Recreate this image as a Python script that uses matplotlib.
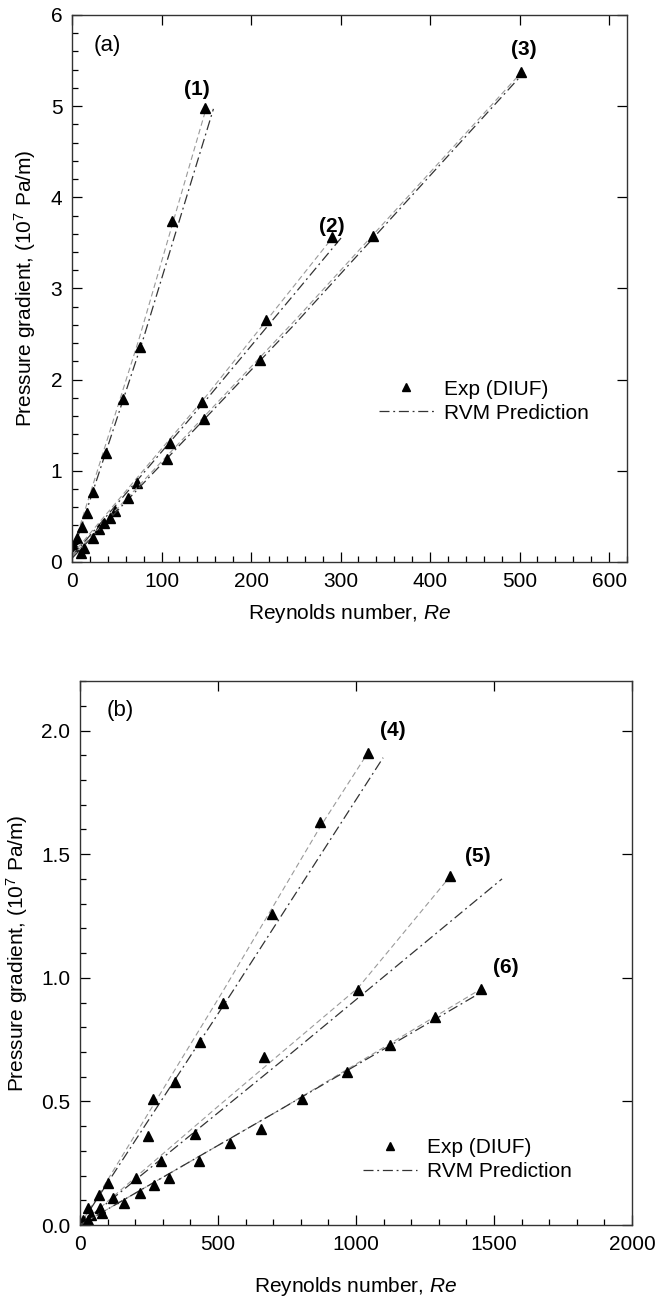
import matplotlib
matplotlib.use('Agg')
import matplotlib.pyplot as plt
from matplotlib.lines import Line2D
from matplotlib.ticker import MultipleLocator, FormatStrFormatter

plt.rcParams['font.family'] = ['Liberation Sans', 'DejaVu Sans']
plt.rcParams['mathtext.fontset'] = 'custom'
plt.rcParams['mathtext.rm'] = 'Liberation Sans'
plt.rcParams['mathtext.it'] = 'Liberation Sans:italic'

# --- panel (a): experimental points (DIUF) ---
re_1 = [149, 112, 76, 57, 38, 24, 17, 11, 6, 2]
dp_1 = [4.98, 3.74, 2.36, 1.79, 1.19, 0.77, 0.54, 0.38, 0.26, 0.18]
re_2 = [290, 217, 145, 110, 73, 48, 30, 13]
dp_2 = [3.56, 2.65, 1.75, 1.31, 0.87, 0.56, 0.36, 0.15]
re_3 = [502, 336, 210, 148, 106, 62, 42, 36, 23, 10]
dp_3 = [5.37, 3.57, 2.22, 1.57, 1.13, 0.70, 0.48, 0.43, 0.26, 0.10]

# panel (a): light dashed trend through the data
fit_re_1 = [0, 75, 150]
fit_dp_1 = [0.12, 2.45, 4.98]
fit_re_2 = [0, 150, 292]
fit_dp_2 = [0.08, 1.82, 3.57]
fit_re_3 = [0, 250, 502]
fit_dp_3 = [0.06, 2.66, 5.37]

# panel (a): RVM prediction
rvm_re_1 = [0, 80, 158]
rvm_dp_1 = [0.08, 2.46, 4.97]
rvm_re_2 = [0, 150, 302]
rvm_dp_2 = [0.06, 1.78, 3.57]
rvm_re_3 = [0, 250, 505]
rvm_dp_3 = [0.04, 2.62, 5.37]

# --- panel (b): experimental points (DIUF) ---
re_4 = [1043, 870, 695, 518, 435, 344, 264, 247, 103, 70, 30, 10]
dp_4 = [1.91, 1.63, 1.26, 0.90, 0.74, 0.58, 0.51, 0.36, 0.17, 0.12, 0.07, 0.02]
re_5 = [1341, 1008, 668, 417, 292, 203, 121, 72, 40, 10]
dp_5 = [1.41, 0.95, 0.68, 0.37, 0.26, 0.19, 0.11, 0.07, 0.04, 0.01]
re_6 = [1453, 1287, 1123, 967, 804, 655, 543, 432, 323, 268, 217, 159, 80, 30]
dp_6 = [0.955, 0.84, 0.73, 0.62, 0.51, 0.39, 0.33, 0.26, 0.19, 0.16, 0.13, 0.09, 0.05, 0.02]

# panel (b): light dashed trend through the data
fit_re_4 = [0, 520, 870, 1043]
fit_dp_4 = [0.0, 0.95, 1.61, 1.91]
fit_re_5 = [0, 500, 1008, 1341]
fit_dp_5 = [0.0, 0.48, 0.96, 1.41]
fit_re_6 = [0, 730, 1453]
fit_dp_6 = [0.0, 0.47, 0.955]

# panel (b): RVM prediction
rvm_re_4 = [0, 550, 1098]
rvm_dp_4 = [0.0, 0.94, 1.89]
rvm_re_5 = [0, 760, 1529]
rvm_dp_5 = [0.0, 0.69, 1.40]
rvm_re_6 = [0, 730, 1467]
rvm_dp_6 = [0.0, 0.47, 0.95]

labels_a = ['(1)', '(2)', '(3)']
label_pos_a = [(140, 5.18), (290, 3.68), (505, 5.62)]
labels_b = ['(4)', '(5)', '(6)']
label_pos_b = [(1134, 2.0), (1442, 1.49), (1543, 1.04)]

exp_style = dict(linestyle='none', marker='^', markersize=7,
                 markerfacecolor='black', markeredgecolor='black')
fit_style = dict(linestyle=(0, (5, 3)), color='#9a9a9a', linewidth=0.8)
rvm_style = dict(linestyle=(0, (8, 3, 1.5, 3)), color='#333333', linewidth=0.9)


def style_axes(ax):
    ax.tick_params(which='both', direction='in', top=True, right=True,
                   labelsize=15, width=0.9, pad=7)
    ax.tick_params(which='major', length=7)
    ax.tick_params(which='minor', length=4, top=False, right=False)
    for s in ax.spines.values():
        s.set_linewidth(1.0)
        s.set_color('#333333')


def draw_panel(ax, series, labels, label_pos):
    for re, dp, fre, fdp, rre, rdp in series:
        ax.plot(fre, fdp, **fit_style)
        ax.plot(rre, rdp, **rvm_style)
        ax.plot(re, dp, **exp_style)
    for lab, (x, y) in zip(labels, label_pos):
        ax.text(x, y, lab, fontsize=15, fontweight='bold', ha='center', va='center')


fig = plt.figure(figsize=(6.57, 13.02), dpi=100)

handles = [Line2D([], [], linestyle='none', marker='^', color='black', markersize=6),
           Line2D([], [], **rvm_style)]

# ---------------- (a) ----------------
ax1 = fig.add_axes([0.1096, 0.5684, 0.8447, 0.4201])
draw_panel(ax1, [(re_1, dp_1, fit_re_1, fit_dp_1, rvm_re_1, rvm_dp_1),
                 (re_2, dp_2, fit_re_2, fit_dp_2, rvm_re_2, rvm_dp_2),
                 (re_3, dp_3, fit_re_3, fit_dp_3, rvm_re_3, rvm_dp_3)],
           labels_a, label_pos_a)
ax1.text(39, 5.67, '(a)', fontsize=16, ha='center', va='center')
ax1.set_xlim(0, 620)
ax1.set_ylim(0, 6)
ax1.xaxis.set_major_locator(MultipleLocator(100))
ax1.xaxis.set_minor_locator(MultipleLocator(20))
ax1.yaxis.set_major_locator(MultipleLocator(1))
ax1.yaxis.set_minor_locator(MultipleLocator(0.2))
ax1.set_xlabel('Reynolds number, $\\mathit{Re}$', fontsize=15, labelpad=8)
ax1.set_ylabel('Pressure gradient, (10$^7$ Pa/m)', fontsize=15, labelpad=9)
style_axes(ax1)
ax1.legend(handles, ['Exp (DIUF)', 'RVM Prediction'], loc='center left',
           bbox_to_anchor=(0.52, 0.294), frameon=False, fontsize=15,
           handlelength=2.6, handletextpad=0.5, labelspacing=0.25)

# ---------------- (b) ----------------
ax2 = fig.add_axes([0.1218, 0.0591, 0.8402, 0.4178])
draw_panel(ax2, [(re_4, dp_4, fit_re_4, fit_dp_4, rvm_re_4, rvm_dp_4),
                 (re_5, dp_5, fit_re_5, fit_dp_5, rvm_re_5, rvm_dp_5),
                 (re_6, dp_6, fit_re_6, fit_dp_6, rvm_re_6, rvm_dp_6)],
           labels_b, label_pos_b)
ax2.text(145, 2.08, '(b)', fontsize=16, ha='center', va='center')
ax2.set_xlim(0, 2000)
ax2.set_ylim(0, 2.2)
ax2.xaxis.set_major_locator(MultipleLocator(500))
ax2.xaxis.set_minor_locator(MultipleLocator(100))
ax2.yaxis.set_major_locator(MultipleLocator(0.5))
ax2.yaxis.set_minor_locator(MultipleLocator(0.1))
ax2.yaxis.set_major_formatter(FormatStrFormatter('%.1f'))
ax2.set_xlabel('Reynolds number, $\\mathit{Re}$', fontsize=15, labelpad=15)
ax2.set_ylabel('Pressure gradient, (10$^7$ Pa/m)', fontsize=15, labelpad=8)
style_axes(ax2)
ax2.legend(handles, ['Exp (DIUF)', 'RVM Prediction'], loc='center left',
           bbox_to_anchor=(0.478, 0.12), frameon=False, fontsize=15,
           handlelength=2.6, handletextpad=0.5, labelspacing=0.25)

fig.savefig('out.png', dpi=100)
